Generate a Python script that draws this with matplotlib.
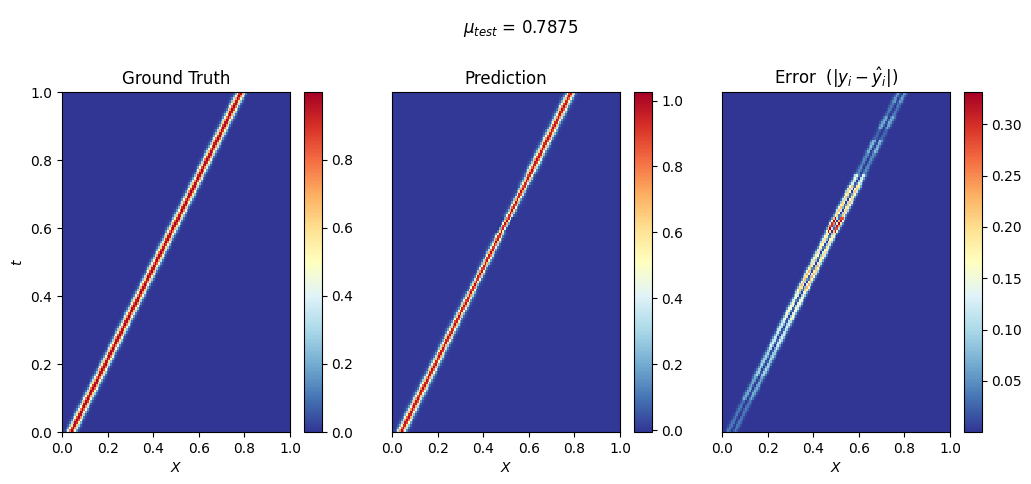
import numpy as np
from matplotlib import pyplot as plt

# test case
mu_test = 0.7875

# pulse
x_start = 0.04    # pulse centre at t = 0
x_end = 0.785     # pulse centre at t = 1
sigma = 0.012

# error band along the pulse, piecewise in t (peak |y - y_hat| of each piece)
err_t_edges = [0.00, 0.09, 0.16, 0.24, 0.33, 0.41, 0.49, 0.59, 0.63, 0.73, 0.76, 0.82, 0.86, 0.89, 0.93, 0.97, 1.00]
err_peak = [0.04, 0.07, 0.10, 0.13, 0.17, 0.23, 0.20, 0.3315, 0.22, 0.15, 0.05, 0.08, 0.03, 0.07, 0.04, 0.06]
err_sigma = 0.010

gt_ticks = [0.0, 0.2, 0.4, 0.6, 0.8]
pred_ticks = [0.0, 0.2, 0.4, 0.6, 0.8, 1.0]
err_ticks = [0.05, 0.10, 0.15, 0.20, 0.25, 0.30]

nx, nt = 128, 128
x = np.linspace(0, 1, nx)
t = np.linspace(0, 1, nt)
X, T = np.meshgrid(x, t)

centre = x_start + (x_end - x_start) * T
d = X - centre
gt = np.exp(-0.5 * (d / sigma) ** 2)

# peak error for each row of t
peak_t = np.zeros(nt)
for i in range(len(err_peak)):
    mask = (t >= err_t_edges[i]) & (t <= err_t_edges[i + 1])
    peak_t[mask] = err_peak[i]

u = d / err_sigma
lobe = u ** 2 * np.exp(-0.5 * u ** 2) / (2 * np.exp(-1))  # two lobes, zero at the centre
pred = gt - peak_t[:, None] * lobe
err = np.abs(gt - pred)

W, H = 1031, 484
fig = plt.figure(figsize=(W / 100, H / 100), dpi=100)
fig.suptitle('$\\mu_{test}$ = 0.7875', x=0.505, y=0.962, fontsize=12)

lefts = [62, 392, 722]
bottom = (H - 432) / H
height = 340 / H
width = 228 / W

fields = [gt, pred, err]
titles = ['Ground Truth', 'Prediction', 'Error  ($|y_i-\\hat{y}_i|$)']
limits = [(0.0, 0.9999), (-0.006, 1.026), (0.0003, max(err_peak))]
cticks = [gt_ticks, pred_ticks, err_ticks]

for k in range(3):
    ax = fig.add_axes([lefts[k] / W, bottom, width, height])
    im = ax.imshow(fields[k], origin='lower', extent=[0, 1, 0, 1], aspect='auto',
                   cmap='RdYlBu_r', vmin=limits[k][0], vmax=limits[k][1],
                   interpolation='nearest')
    ax.set_title(titles[k], fontsize=12)
    ax.set_xlabel('$X$')
    ax.set_xticks([0.0, 0.2, 0.4, 0.6, 0.8, 1.0])
    if k == 0:
        ax.set_ylabel('$t$')
        ax.set_yticks([0.0, 0.2, 0.4, 0.6, 0.8, 1.0])
    else:
        ax.set_yticks([])
    cax = fig.add_axes([(lefts[k] + 228 + 14) / W, bottom, 17.5 / W, height])
    cb = fig.colorbar(im, cax=cax)
    cb.set_ticks(cticks[k])

fig.savefig('out.png', dpi=100)
